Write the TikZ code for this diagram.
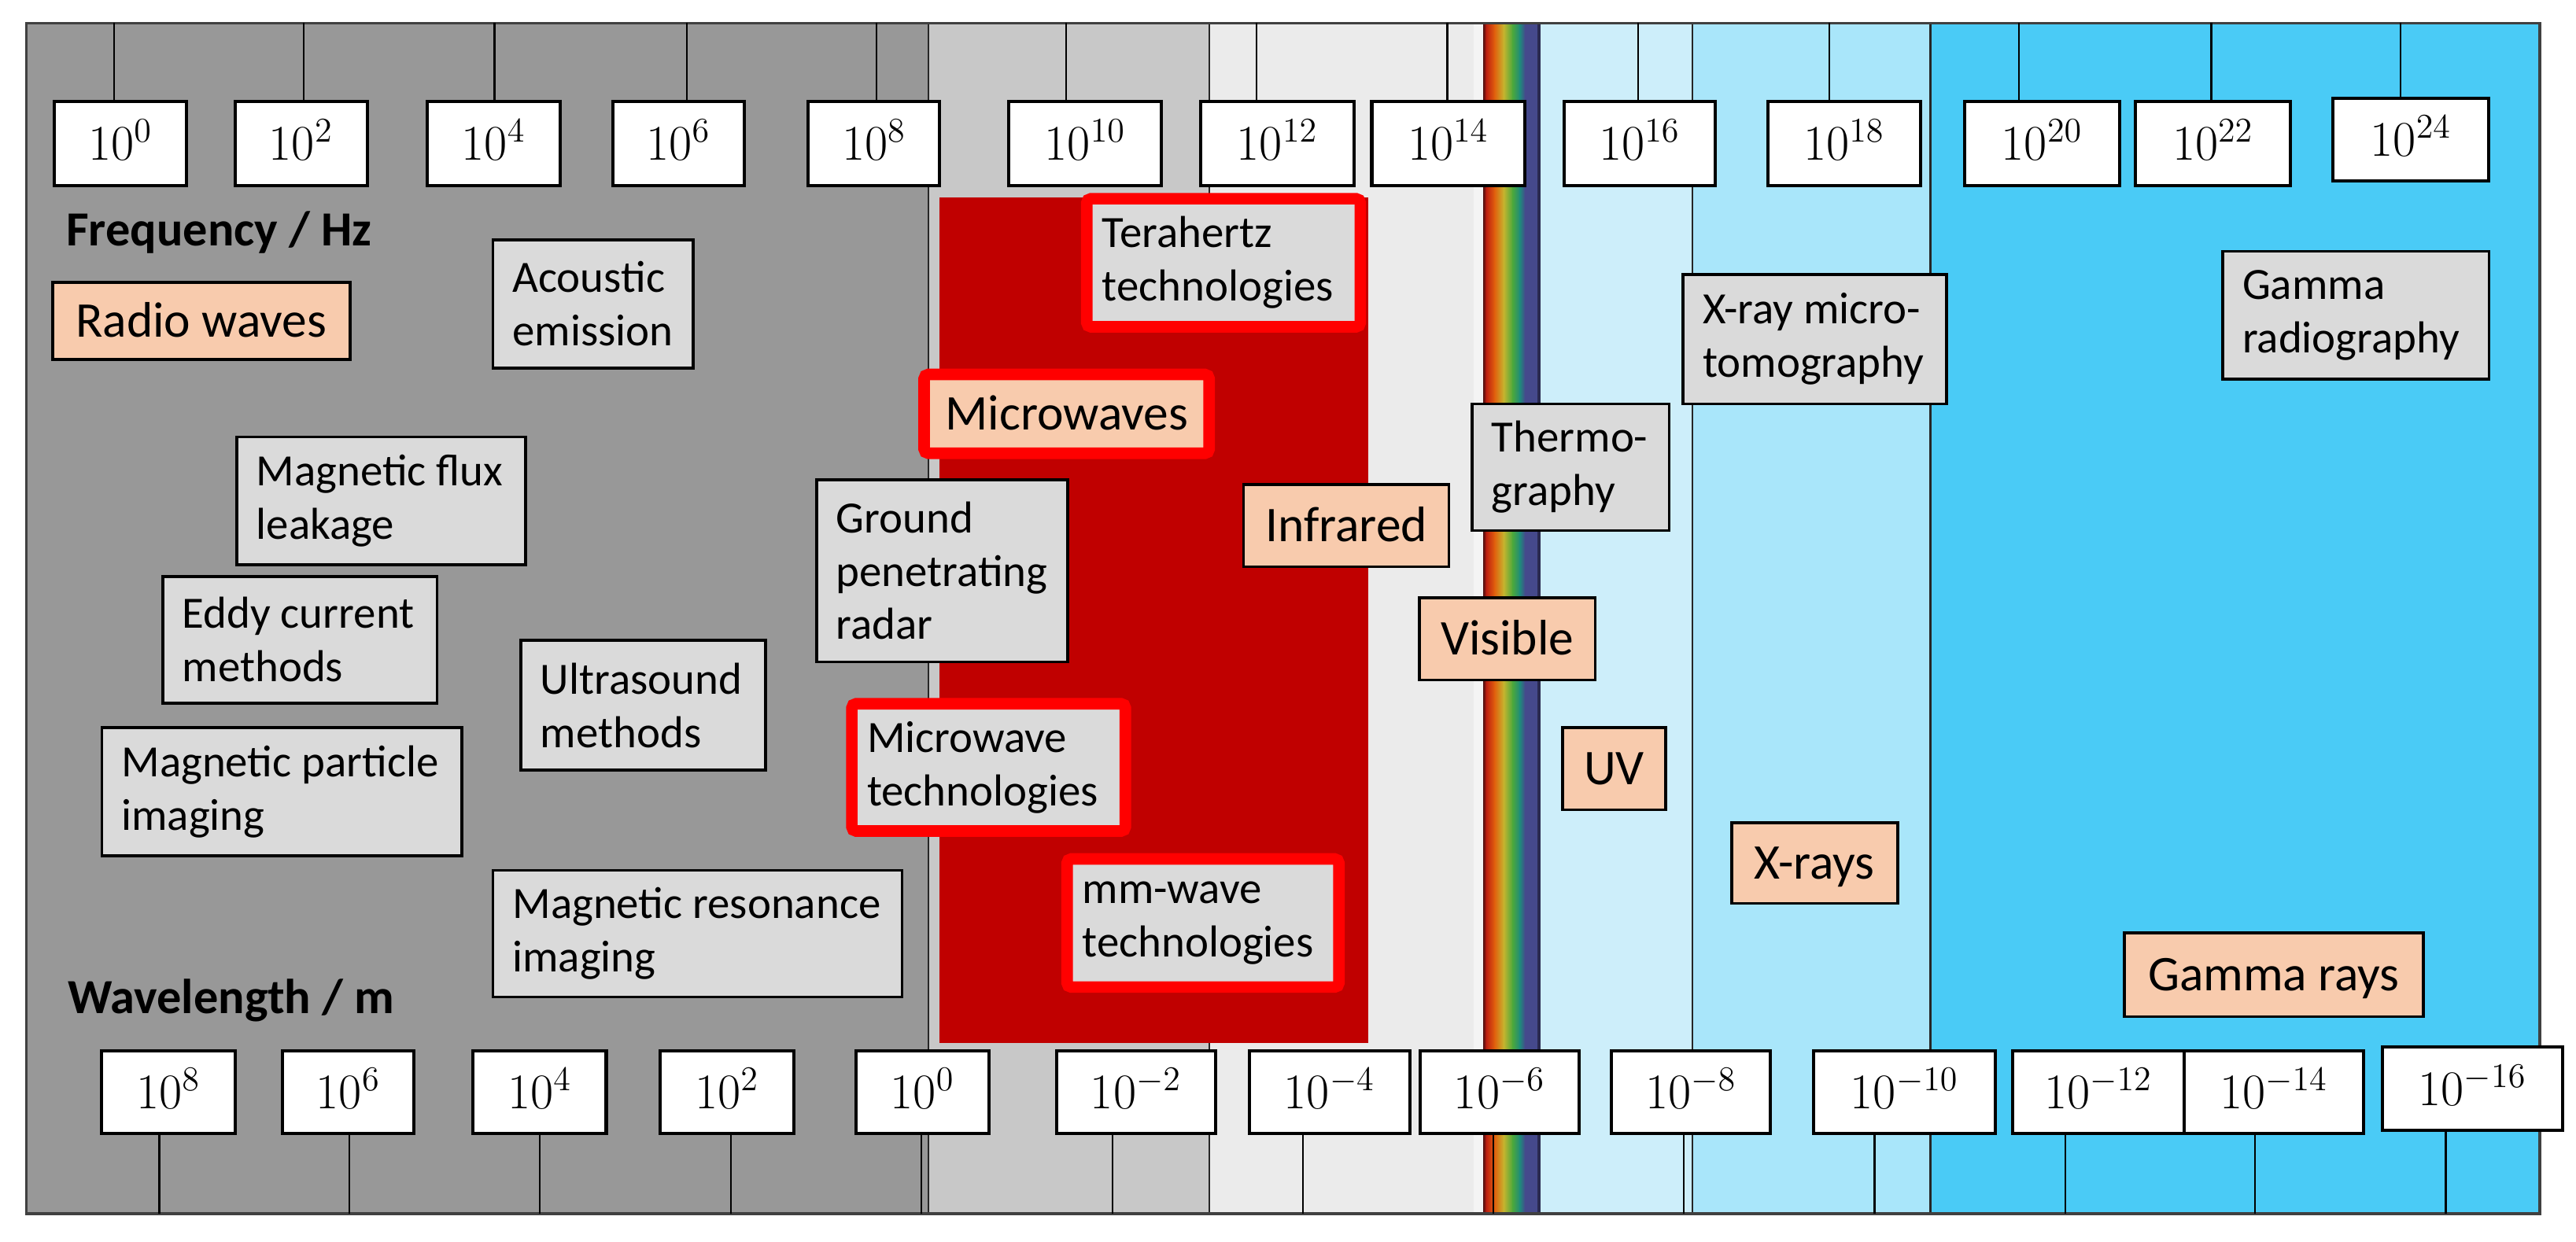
\documentclass[tikz,border=0pt]{standalone}
\usepackage[no-math]{fontspec}
\setmainfont{Carlito}
\definecolor{rgDark}{HTML}{989898}
\definecolor{rgMid}{HTML}{C8C8C8}
\definecolor{rgLight}{HTML}{EBEBEB}
\definecolor{rgPale}{HTML}{F4F4F4}
\definecolor{blA}{HTML}{CDEEFA}
\definecolor{blB}{HTML}{A9E6FA}
\definecolor{blC}{HTML}{4ACBF6}
\definecolor{mwred}{HTML}{C00000}
\definecolor{hired}{HTML}{FF0000}
\definecolor{peach}{HTML}{F8CBAD}
\definecolor{boxgray}{HTML}{DADADA}
\definecolor{frameC}{HTML}{404040}
\definecolor{rbA}{HTML}{5A1010}
\definecolor{rbB}{HTML}{BE1E10}
\definecolor{rbC}{HTML}{E0620E}
\definecolor{rbD}{HTML}{C6B42E}
\definecolor{rbE}{HTML}{4AA83C}
\definecolor{rbF}{HTML}{1F8A7A}
\definecolor{rbG}{HTML}{45498C}
\definecolor{rbH}{HTML}{2A2A50}

\tikzset{
  tickline/.style={line width=0.6pt, draw=black},
  bound/.style={line width=0.6pt, draw=black!85},
  numbox/.style={draw=black, fill=white, line width=1.1pt, inner sep=0pt},
  numtxt/.style={inner sep=0pt, font=\fontsize{18}{20}\selectfont, text height=11.6pt, text depth=0pt},
  greybox/.style={draw=black, fill=boxgray, line width=1pt, inner sep=0pt},
  peachbox/.style={draw=black, fill=peach, line width=1pt, inner sep=0pt},
  redgrey/.style={draw=hired, fill=boxgray, line width=4pt, rounded corners=1.5pt, inner sep=0pt},
  redpeach/.style={draw=hired, fill=peach, line width=4pt, rounded corners=1.5pt, inner sep=0pt},
  txt/.style={font=\fontsize{15.5}{18.5}\selectfont, inner sep=0pt, align=left},
  ctxt/.style={font=\fontsize{17.3}{20}\selectfont, inner sep=0pt, text height=11pt, text depth=0pt},
  axlabel/.style={font=\bfseries\fontsize{17}{20}\selectfont, inner sep=0pt, anchor=base west},
}

\newcommand\nbx[6]{%
  \pgfmathsetmacro\myBw{(#4-#2)*0.02}\pgfmathsetmacro\myBh{(#5-#3)*0.02}%
  \node[numbox, minimum width=\myBw cm, minimum height=\myBh cm] (#1) at ({(#2+#4)/2},{(#3+#5)/2}) {};%
  \node[numtxt] (#1-t) at (#1.center) {$10^{#6}$};}
\newcommand\lbx[7]{%
  \pgfmathsetmacro\myBw{(#5-#3)*0.02}\pgfmathsetmacro\myBh{(#6-#4)*0.02}%
  \node[#2, minimum width=\myBw cm, minimum height=\myBh cm] (#1) at ({(#3+#5)/2},{(#4+#6)/2}) {};%
  \node[txt, anchor=west] (#1-t) at ([xshift=0.25cm]#1.west) {#7};}
\newcommand\cbx[7]{%
  \pgfmathsetmacro\myBw{(#5-#3)*0.02}\pgfmathsetmacro\myBh{(#6-#4)*0.02}%
  \node[#2, minimum width=\myBw cm, minimum height=\myBh cm] (#1) at ({(#3+#5)/2},{(#4+#6)/2}) {};%
  \node[ctxt] (#1-t) at (#1.center) {#7};}

\begin{document}
\begin{tikzpicture}[x=0.02cm, y=-0.02cm]
\useasboundingbox (0,0) rectangle (1568,756);
\fill[white] (0,0) rectangle (1568,756);

% spectral regions
\fill[rgDark] (16,14) rectangle (565,739);
\fill[rgMid] (565,14) rectangle (736,739);
\fill[rgLight] (736,14) rectangle (903,739);
\fill[rgPale] (897,14) rectangle (903,739);
\fill[blA] (937,14) rectangle (1030,739);
\fill[blB] (1030,14) rectangle (1175,739);
\fill[blC] (1175,14) rectangle (1546,739);

% visible rainbow band
\shade[left color=rbA, right color=rbB] (903,14) rectangle (904.8,739);
\shade[left color=rbB, right color=rbC] (904.6,14) rectangle (910,739);
\shade[left color=rbC, right color=rbD] (909.8,14) rectangle (915.4,739);
\shade[left color=rbD, right color=rbE] (915.2,14) rectangle (920.9,739);
\shade[left color=rbE, right color=rbF] (920.7,14) rectangle (925.3,739);
\shade[left color=rbF, right color=rbG] (925.1,14) rectangle (928.4,739);
\fill[rbG] (928.2,14) rectangle (935.8,739);
\fill[rbH] (935.6,14) rectangle (937.5,739);

% region boundaries
\draw[bound] (565,14) -- (565,739);
\draw[bound] (736,14) -- (736,739);
\draw[bound] (1030,14) -- (1030,739);
\draw[bound] (1175,14) -- (1175,739);

% microwave band
\fill[mwred] (572,120) rectangle (833,635);

% frame
\draw[frameC, line width=0.9pt] (16,14) rectangle (1546,739);

% frequency scale
\nbx{f0}{33}{62}{113.5}{113}{0}
\nbx{f2}{143}{62}{223.5}{113}{2}
\nbx{f4}{260}{62}{341}{113}{4}
\nbx{f6}{373}{62}{453}{113}{6}
\nbx{f8}{492}{62}{572}{113}{8}
\nbx{f10}{614}{62}{707}{113}{10}
\nbx{f12}{731}{62}{824}{113}{12}
\nbx{f14}{835}{62}{928}{113}{14}
\nbx{f16}{952}{62}{1044}{113}{16}
\nbx{f18}{1076}{62}{1169}{113}{18}
\nbx{f20}{1196}{62}{1290}{113}{20}
\nbx{f22}{1300}{62}{1394}{113}{22}
\nbx{f24}{1420}{60}{1515}{110}{24}

\foreach \nm/\xx in {f0/69.6, f2/185, f4/301, f6/418, f8/533.5, f10/649, f12/765,
  f14/881, f16/997, f18/1113.5, f20/1229, f22/1346, f24/1461}{
  \coordinate (t-\nm) at (\xx,14);
  \draw[tickline] (t-\nm) -- (t-\nm |- \nm.north);
}

% wavelength scale
\nbx{w8}{62}{640}{143}{690}{8}
\nbx{w6}{172}{640}{252}{690}{6}
\nbx{w4}{288}{640}{369}{690}{4}
\nbx{w2}{402}{640}{483}{690}{2}
\nbx{w0}{521}{640}{602}{690}{0}
\nbx{wm2}{643}{640}{740}{690}{-2}
\nbx{wm4}{760.5}{640}{858}{690}{-4}
\nbx{wm6}{864.5}{640}{961}{690}{-6}
\nbx{wm8}{981}{640}{1077.5}{690}{-8}
\nbx{wm10}{1104}{640}{1214.5}{690}{-10}
\nbx{wm12}{1225}{640}{1329.5}{690}{-12}
\nbx{wm14}{1329.5}{640}{1438.6}{690}{-14}
\nbx{wm16}{1450}{637.5}{1560}{688}{-16}

\foreach \nm/\xx in {w8/97, w6/212.5, w4/328.7, w2/445, w0/561, wm2/677, wm4/793,
  wm6/909, wm8/1025, wm10/1141, wm12/1257, wm14/1372.6, wm16/1488.7}{
  \coordinate (b-\nm) at (\xx,739);
  \draw[tickline] (b-\nm) -- (b-\nm |- \nm.south);
}

% axis labels
\node[axlabel] (freq) at (40,149.5) {Frequency / Hz};
\node[axlabel] (wave) at (41,617) {Wavelength / m};

% spectrum bands
\cbx{radio}{peachbox}{32}{172}{213}{219}{Radio waves}
\cbx{micro}{redpeach}{562.5}{228}{736}{276}{Microwaves}
\cbx{infra}{peachbox}{757}{295}{882}{345}{Infrared}
\cbx{visible}{peachbox}{864}{364}{971}{414}{Visible}
\cbx{uv}{peachbox}{951}{443}{1014}{493}{UV}
\cbx{xrays}{peachbox}{1054}{501}{1155}{550}{X-rays}
\cbx{gammar}{peachbox}{1293}{568}{1475}{619}{Gamma rays}

% techniques
\lbx{acoustic}{greybox}{300}{146}{422}{224}{Acoustic\\emission}
\lbx{mfl}{greybox}{144}{266}{320}{344}{Magnetic flux\\leakage}
\lbx{thermo}{greybox}{896}{246}{1016}{323}{Thermo-\\graphy}
\lbx{gpr}{greybox}{497}{292}{650}{403}{Ground\\penetrating\\radar}
\lbx{eddy}{greybox}{99}{351}{266}{428}{Eddy current\\methods}
\lbx{ultra}{greybox}{317}{390}{466}{469}{Ultrasound\\methods}
\lbx{mpi}{greybox}{62}{443}{281}{521}{Magnetic particle\\imaging}
\lbx{mri}{greybox}{300}{530}{549}{607}{Magnetic resonance\\imaging}
\lbx{xrmt}{greybox}{1024.5}{167}{1185}{246}{X-ray micro-\\tomography}
\lbx{gammarad}{greybox}{1353}{153}{1515}{231}{Gamma\\radiography}
\lbx{thz}{redgrey}{661.5}{121}{828}{199}{Terahertz\\technologies}
\lbx{mwt}{redgrey}{518.5}{428.5}{685}{506}{Microwave\\technologies}
\lbx{mmw}{redgrey}{649.5}{523}{815}{601}{mm-wave\\technologies}
\end{tikzpicture}
\end{document}
